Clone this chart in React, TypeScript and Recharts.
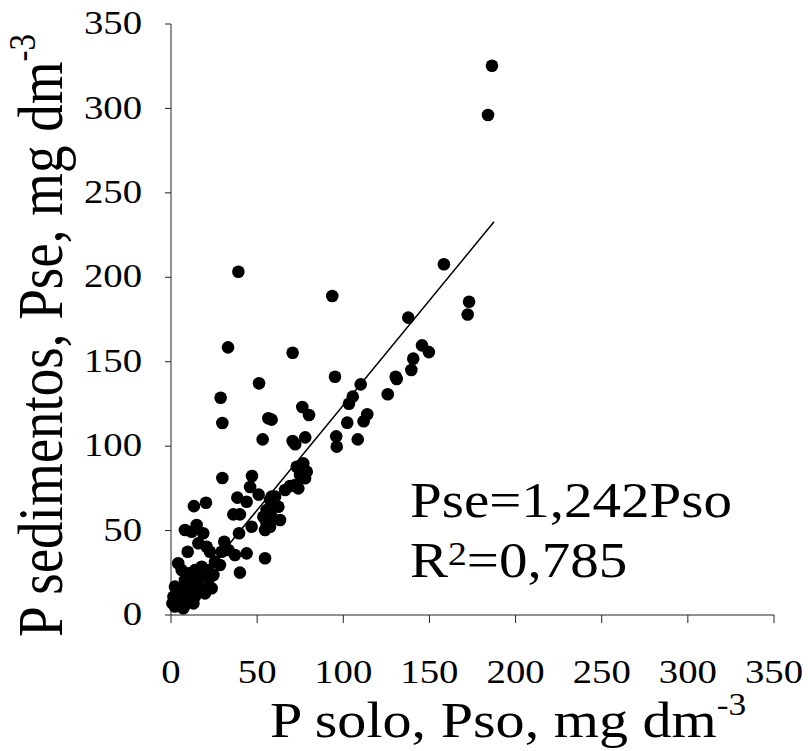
import React from "react";
import {
  ScatterChart,
  Scatter,
  XAxis,
  YAxis,
  ReferenceLine,
  Customized,
} from "recharts";

// P no solo (Pso) x P nos sedimentos (Pse), mg dm-3
const pso = [
  186.3, 184, 39.1, 158.4, 93.6, 173.0, 172.2, 137.7, 33.1, 70.6, 145.7, 149.7,
  140.6, 139.5, 51.1, 95.2, 130.4, 131.0, 110.1, 125.8, 28.8, 105.5, 103.3, 76.2,
  80.1, 56.5, 58.4, 102.3, 113.9, 111.8, 29.8, 53.2, 70.6, 72.1, 77.9, 95.9,
  96.2, 108.4,
  29.8, 47.0, 45.9, 50.9, 38.5, 43.9, 20.3, 13.3, 36.2, 40.0, 73.0, 76.8, 78.8,
  74.9, 77.8, 66.2, 69.1, 72.0, 73.9, 57.5, 60.4, 59.4, 62.3, 55.5, 53.6, 58.4,
  63.3, 55.5, 57.5, 46.8, 54.6, 58.4,
  8.1, 12.0, 14.9, 18.7, 30.9, 39.5, 15.9, 20.7, 9.7, 4.2, 22.6, 29.4, 33.3,
  37.1, 43.9, 54.6, 40.0, 25.5, 28.4,
  6.2, 10.0, 13.9, 17.8, 21.7, 8.1, 13.0, 16.8, 21.7, 24.6, 2.3, 6.2, 11.0, 14.9,
  18.7, 23.6, 1.4, 5.2, 10.0, 13.9, 19.7, 0.8, 4.3, 8.1, 13.0, 7.1, 2.3, 19.7,
];
const pse = [
  325.3, 296.1, 203.3, 207.7, 188.9, 185.5, 178.0, 176.1, 158.5, 155.3, 159.7,
  155.7, 151.8, 145.1, 137.2, 141.1, 141.1, 139.8, 136.6, 130.7, 128.7, 129.3,
  125.1, 123.2, 118.4, 116.5, 115.7, 113.9, 118.9, 114.7, 113.7, 104.0, 103.0,
  101.1, 105.2, 105.8, 99.7, 104.0,
  81.1, 82.3, 75.8, 71.3, 69.5, 67.1, 66.5, 64.5, 59.6, 59.6, 87.8, 89.8, 84.9,
  82.9, 81.0, 74.0, 76.4, 77.0, 75.0, 68.1, 70.1, 64.1, 64.1, 62.2, 58.2, 58.2,
  56.3, 54.3, 52.3, 52.3, 50.3, 70.1,
  50.3, 49.3, 53.3, 48.4, 43.4, 48.4, 42.5, 40.4, 37.5, 30.6, 37.5, 37.5, 38.5,
  35.5, 36.5, 33.6, 25.1, 31.6, 29.6,
  26.6, 24.7, 26.6, 28.6, 26.6, 20.7, 19.7, 21.7, 20.7, 23.7, 16.8, 14.8, 14.8,
  15.8, 14.8, 15.8, 10.9, 8.9, 9.9, 10.9, 12.8, 6.9, 5.9, 5.9, 6.9, 4.0, 5.0, 14.8,
];

const ticks = [0, 50, 100, 150, 200, 250, 300, 350];
const fitSlope = 1.242;
const fitRange = [2, 187.5];

const data = pso.map((x, i) => ({ x, y: pse[i] }));

// the original figure is stretched sideways a little
const FONT = "Liberation Serif";
const SX = 1.14;

function Dot(props: any) {
  return <circle cx={props.cx} cy={props.cy} r={6.3} fill="#000" />;
}

function XTick({ x, y, payload }: any) {
  return (
    <text
      transform={`translate(${x},${y}) scale(${SX},1)`}
      textAnchor="middle"
      dy="0.71em"
      fontFamily={FONT}
      fontSize={34}
      fill="#000"
    >
      {payload.value}
    </text>
  );
}

function YTick({ x, y, payload }: any) {
  return (
    <text
      transform={`translate(${x},${y}) scale(${SX},1)`}
      textAnchor="end"
      dy="0.3em"
      fontFamily={FONT}
      fontSize={34}
      fill="#000"
    >
      {payload.value}
    </text>
  );
}

function Titles() {
  return (
    <g fill="#000" fontFamily={FONT}>
      <text transform={`translate(270,737) scale(${SX},1)`} fontSize={51} fontFamily={FONT}>
        P solo, Pso, mg dm
        <tspan dy={-22} fontSize={31}>-3</tspan>
      </text>
      <text
        transform={`translate(62,637) rotate(-90) scale(1,${SX})`}
        fontSize={55}
        fontFamily={FONT}
      >
        P sedimentos, Pse, mg dm
        <tspan dy={-24} fontSize={33}>-3</tspan>
      </text>
      <text transform={`translate(410,517) scale(${SX},1)`} fontSize={50} fontFamily={FONT}>
        Pse=1,242Pso
      </text>
      <text transform={`translate(410,577) scale(${SX},1)`} fontSize={50} fontFamily={FONT}>
        R
        <tspan dy={-12} fontSize={33}>2</tspan>
        <tspan dy={12} fontSize={50}>=0,785</tspan>
      </text>
    </g>
  );
}

export default function App() {
  return (
    <div style={{ position: "absolute", left: 0, top: 0, background: "#fff" }}>
      <ScatterChart
        width={808}
        height={751}
        margin={{ top: 24, right: 34, bottom: 0, left: 0 }}
      >
        <XAxis
          type="number"
          dataKey="x"
          domain={[0, 350]}
          ticks={ticks}
          height={136}
          tickSize={8}
          tickMargin={36}
          stroke="#222"
          tick={<XTick />}
        />
        <YAxis
          type="number"
          dataKey="y"
          domain={[0, 350]}
          ticks={ticks}
          width={171}
          tickSize={6}
          tickMargin={23}
          stroke="#222"
          tick={<YTick />}
        />
        <ReferenceLine
          segment={[
            { x: fitRange[0], y: fitSlope * fitRange[0] },
            { x: fitRange[1], y: fitSlope * fitRange[1] },
          ]}
          stroke="#000"
          strokeWidth={1.5}
          ifOverflow="visible"
        />
        <Scatter data={data} shape={Dot} isAnimationActive={false} />
        <Customized component={Titles} />
      </ScatterChart>
    </div>
  );
}
